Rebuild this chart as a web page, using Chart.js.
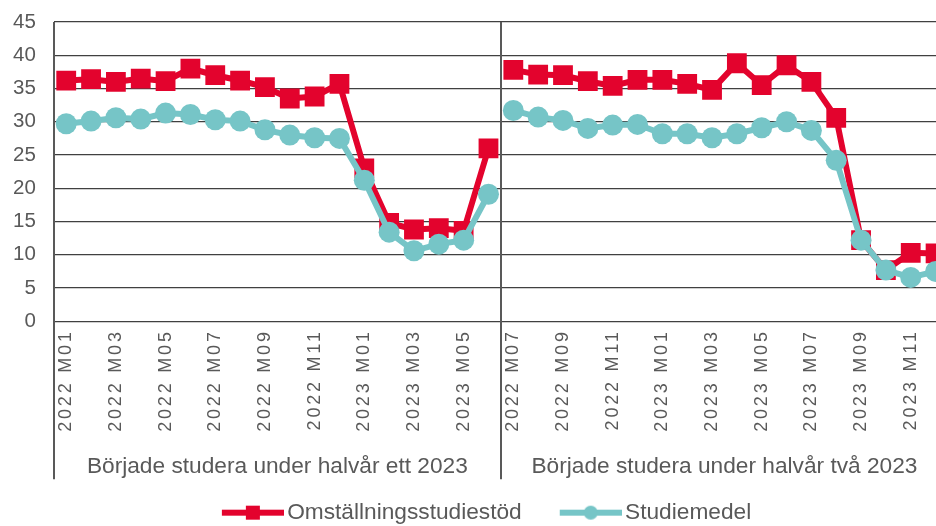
<!DOCTYPE html>
<html>
<head>
<meta charset="utf-8">
<script src="https://cdn.jsdelivr.net/npm/chart.js@4/dist/chart.umd.min.js"></script>
<style>
  html, body { margin: 0; padding: 0; background: #fff; overflow: hidden; width: 936px; height: 526px; }
  #wrap { position: absolute; left: 0; top: 0; width: 984px; height: 534px; }
</style>
</head>
<body>
<div id="wrap"><canvas id="c" width="984" height="534"></canvas></div>
<script>
const categories = [
  '2022 M01','2022 M02','2022 M03','2022 M04','2022 M05','2022 M06',
  '2022 M07','2022 M08','2022 M09','2022 M10','2022 M11','2022 M12',
  '2023 M01','2023 M02','2023 M03','2023 M04','2023 M05','2023 M06',
  '2022 M07','2022 M08','2022 M09','2022 M10','2022 M11','2022 M12',
  '2023 M01','2023 M02','2023 M03','2023 M04','2023 M05','2023 M06',
  '2023 M07','2023 M08','2023 M09','2023 M10','2023 M11','2023 M12'
];
const groupLabels = ['Började studera under halvår ett 2023', 'Började studera under halvår två 2023'];
const seriesNames = ['Omställningsstudiestöd', 'Studiemedel'];
const omstallningsstudiestod = [
  36.2, 36.4, 36.0, 36.5, 36.1, 38.0, 37.0, 36.2, 35.2, 33.5, 33.8, 35.7,
  23.0, 14.8, 13.8, 14.0, 13.6, 26.0,
  37.8, 37.1, 37.0, 36.1, 35.4, 36.3, 36.3, 35.7, 34.8, 38.8, 35.5, 38.5,
  36.0, 30.6, 12.2, 7.7, 10.3, 10.2
];
const studiemedel = [
  29.7, 30.1, 30.6, 30.4, 31.3, 31.1, 30.3, 30.1, 28.8, 28.0, 27.6, 27.5,
  21.2, 13.4, 10.6, 11.6, 12.2, 19.1,
  31.7, 30.7, 30.2, 29.0, 29.5, 29.6, 28.2, 28.2, 27.6, 28.2, 29.1, 30.0,
  28.7, 24.2, 12.2, 7.7, 6.6, 7.5
];
const groupSize = 18;

const RED = '#E3032D';
const TEAL = '#76C5C7';
const TEXT = '#595959';
const GRID = '#404040';
const FONT = "'Liberation Sans', Arial, sans-serif";

function legendIcon(color, shape) {
  const cv = document.createElement('canvas');
  cv.width = 100; cv.height = 22;
  const g = cv.getContext('2d');
  g.strokeStyle = color; g.lineWidth = 6; g.lineCap = 'butt';
  g.beginPath(); g.moveTo(38, 11); g.lineTo(100, 11); g.stroke();
  g.fillStyle = color;
  if (shape === 'rect') { g.fillRect(62, 4, 14, 14); }
  else { g.beginPath(); g.arc(69, 11, 7, 0, Math.PI * 2); g.fill(); }
  return cv;
}
const icons = [legendIcon(RED, 'rect'), legendIcon(TEAL, 'circle')];

const gapSegment = {
  borderColor: ctx => (ctx.p0DataIndex === groupSize - 1 ? 'rgba(0,0,0,0)' : undefined)
};

const dividerPlugin = {
  id: 'dividers',
  afterLayout(chart) {
    const sc = chart.scales.x;
    if (!sc._spacedLabels) {
      const orig = sc.drawLabels.bind(sc);
      sc.drawLabels = function (area) {
        const c = chart.ctx;
        const prev = c.letterSpacing;
        c.letterSpacing = '2.8px';
        orig(area);
        c.letterSpacing = prev || '0px';
      };
      sc._spacedLabels = true;
    }
  },
  beforeDatasetsDraw(chart) {
    const { ctx, chartArea, scales } = chart;
    const x = scales.x;
    const bottom = scales.x2.top + 40;
    const xs = [chartArea.left, (x.getPixelForValue(groupSize - 1) + x.getPixelForValue(groupSize)) / 2];
    ctx.save();
    ctx.strokeStyle = TEXT;
    ctx.lineWidth = 2;
    xs.forEach(px => {
      ctx.beginPath();
      ctx.moveTo(Math.round(px), chartArea.top);
      ctx.lineTo(Math.round(px), bottom);
      ctx.stroke();
    });
    ctx.restore();
  }
};

new Chart(document.getElementById('c'), {
  type: 'line',
  data: {
    labels: categories,
    datasets: [
      {
        label: seriesNames[0],
        data: omstallningsstudiestod,
        borderColor: RED,
        backgroundColor: RED,
        borderWidth: 6,
        pointStyle: 'rect',
        pointRadius: 14,
        pointBorderWidth: 0,
        pointBackgroundColor: RED,
        tension: 0,
        order: 1,
        segment: gapSegment
      },
      {
        label: seriesNames[1],
        data: studiemedel,
        borderColor: TEAL,
        backgroundColor: TEAL,
        borderWidth: 6,
        pointStyle: 'circle',
        pointRadius: 10.5,
        pointBorderWidth: 0,
        pointBackgroundColor: TEAL,
        tension: 0,
        order: 0,
        segment: gapSegment
      }
    ]
  },
  options: {
    responsive: false,
    animation: false,
    events: [],
    layout: { padding: { left: -5, right: 36, top: 22, bottom: 0 } },
    plugins: {
      tooltip: { enabled: false },
      legend: {
        position: 'bottom',
        labels: {
          usePointStyle: true,
          pointStyleWidth: 84,
          boxHeight: 20,
          padding: 8,
          color: TEXT,
          font: { family: FONT, size: 22.7 },
          sort: (a, b) => a.datasetIndex - b.datasetIndex,
          generateLabels(chart) {
            const items = Chart.defaults.plugins.legend.labels.generateLabels(chart);
            items.forEach(it => { it.pointStyle = icons[it.datasetIndex]; });
            return items;
          }
        }
      }
    },
    scales: {
      y: {
        min: 0,
        max: 45,
        afterFit(scale) { scale.paddingTop = 0; scale.paddingBottom = 0; },
        ticks: { stepSize: 5, color: TEXT, font: { family: FONT, size: 20.5 }, padding: 18 },
        grid: { color: GRID, lineWidth: 1.3, drawTicks: false },
        border: { display: false }
      },
      x: {
        offset: true,
        grid: { display: false, drawTicks: false },
        border: { display: false },
        afterFit(scale) { scale.height = 118; },
        ticks: {
          autoSkip: false,
          minRotation: 90,
          maxRotation: 90,
          padding: 8,
          color: TEXT,
          font: { family: FONT, size: 18 },
          callback(value, index) { return index % 2 === 0 ? categories[index] : ''; }
        }
      },
      x2: {
        type: 'category',
        position: 'bottom',
        labels: groupLabels,
        offset: true,
        grid: { display: false, drawTicks: false },
        border: { display: false },
        afterFit(scale) { scale.height = 54; },
        ticks: { color: TEXT, font: { family: FONT, size: 22.7 }, padding: 14, maxRotation: 0, autoSkip: false }
      }
    }
  },
  plugins: [dividerPlugin]
});
</script>
</body>
</html>
